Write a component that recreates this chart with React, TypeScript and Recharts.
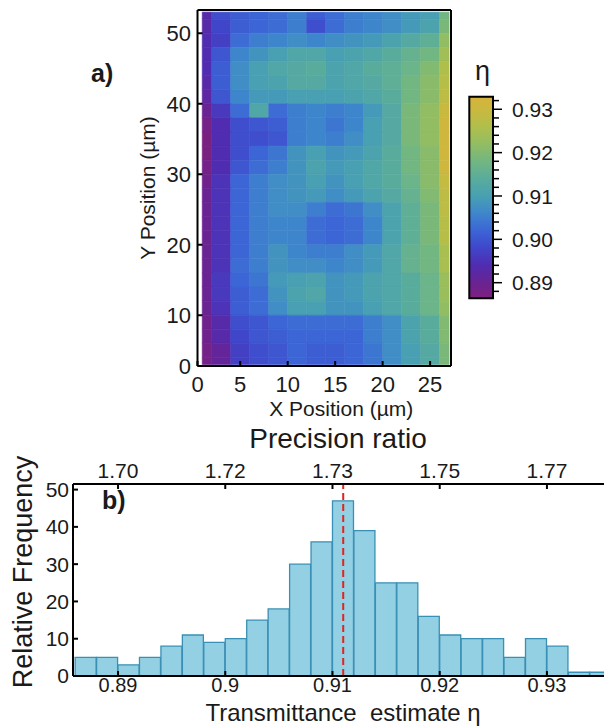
import React from 'react';
import { ComposedChart, XAxis, YAxis, Bar, ReferenceArea, ReferenceLine, Label } from 'recharts';

// ---- a) transmittance map ----
// column edges along x (µm) and row edges along y (µm, top row first)
const xEdges = [1, 2, 4, 6, 8, 10, 12, 14, 16, 18, 20, 22, 24, 26, 27];
const yEdges = [53, 52, 50, 48, 46, 44, 42, 40, 38, 36, 34, 32, 30, 28, 26, 24, 22, 20, 18, 16, 14, 12, 10, 8, 6, 4, 3];

// eta per cell, one row per y band (top -> bottom), one value per x band
const etaGrid = [
  [0.893, 0.899, 0.901, 0.902, 0.903, 0.905, 0.901, 0.903, 0.905, 0.906, 0.907, 0.909, 0.910, 0.918],
  [0.893, 0.898, 0.901, 0.902, 0.903, 0.905, 0.899, 0.903, 0.905, 0.906, 0.907, 0.909, 0.911, 0.919],
  [0.894, 0.897, 0.903, 0.905, 0.906, 0.907, 0.906, 0.907, 0.908, 0.909, 0.911, 0.913, 0.915, 0.922],
  [0.894, 0.900, 0.906, 0.908, 0.910, 0.912, 0.912, 0.910, 0.911, 0.912, 0.914, 0.916, 0.918, 0.924],
  [0.894, 0.901, 0.907, 0.910, 0.912, 0.913, 0.914, 0.911, 0.912, 0.914, 0.915, 0.917, 0.920, 0.926],
  [0.893, 0.901, 0.907, 0.910, 0.911, 0.913, 0.913, 0.911, 0.912, 0.913, 0.915, 0.918, 0.921, 0.927],
  [0.892, 0.900, 0.906, 0.909, 0.909, 0.910, 0.910, 0.910, 0.911, 0.912, 0.914, 0.918, 0.921, 0.928],
  [0.890, 0.896, 0.903, 0.912, 0.903, 0.905, 0.906, 0.905, 0.906, 0.909, 0.913, 0.919, 0.922, 0.930],
  [0.888, 0.894, 0.899, 0.900, 0.901, 0.905, 0.906, 0.904, 0.906, 0.910, 0.913, 0.919, 0.922, 0.931],
  [0.887, 0.894, 0.899, 0.899, 0.900, 0.905, 0.906, 0.905, 0.907, 0.910, 0.913, 0.919, 0.922, 0.931],
  [0.887, 0.894, 0.899, 0.902, 0.904, 0.908, 0.910, 0.908, 0.909, 0.911, 0.914, 0.918, 0.921, 0.931],
  [0.888, 0.894, 0.900, 0.903, 0.905, 0.908, 0.911, 0.909, 0.910, 0.912, 0.914, 0.918, 0.921, 0.931],
  [0.889, 0.895, 0.902, 0.905, 0.907, 0.908, 0.910, 0.908, 0.910, 0.912, 0.914, 0.917, 0.921, 0.929],
  [0.890, 0.895, 0.902, 0.905, 0.907, 0.908, 0.909, 0.907, 0.909, 0.911, 0.913, 0.916, 0.920, 0.928],
  [0.890, 0.895, 0.902, 0.905, 0.907, 0.907, 0.905, 0.903, 0.904, 0.907, 0.911, 0.915, 0.919, 0.928],
  [0.890, 0.895, 0.902, 0.905, 0.906, 0.906, 0.903, 0.902, 0.903, 0.906, 0.911, 0.915, 0.919, 0.927],
  [0.890, 0.895, 0.902, 0.905, 0.906, 0.906, 0.903, 0.902, 0.903, 0.906, 0.911, 0.915, 0.919, 0.927],
  [0.890, 0.895, 0.902, 0.905, 0.908, 0.906, 0.905, 0.905, 0.907, 0.909, 0.912, 0.916, 0.918, 0.925],
  [0.890, 0.895, 0.903, 0.905, 0.908, 0.907, 0.907, 0.906, 0.907, 0.909, 0.912, 0.916, 0.918, 0.925],
  [0.890, 0.896, 0.902, 0.904, 0.909, 0.910, 0.911, 0.908, 0.909, 0.911, 0.912, 0.914, 0.917, 0.923],
  [0.890, 0.896, 0.901, 0.903, 0.908, 0.911, 0.912, 0.908, 0.909, 0.911, 0.912, 0.914, 0.917, 0.923],
  [0.890, 0.895, 0.901, 0.903, 0.907, 0.910, 0.910, 0.908, 0.908, 0.910, 0.912, 0.914, 0.917, 0.922],
  [0.889, 0.893, 0.899, 0.900, 0.902, 0.903, 0.903, 0.903, 0.903, 0.905, 0.907, 0.911, 0.914, 0.920],
  [0.889, 0.893, 0.898, 0.900, 0.901, 0.902, 0.902, 0.902, 0.902, 0.905, 0.907, 0.911, 0.914, 0.920],
  [0.888, 0.891, 0.897, 0.899, 0.900, 0.902, 0.901, 0.901, 0.902, 0.904, 0.907, 0.910, 0.913, 0.919],
  [0.888, 0.891, 0.897, 0.899, 0.900, 0.902, 0.901, 0.901, 0.902, 0.904, 0.907, 0.910, 0.913, 0.919],
];

const mapXTicks = [0.5, 5, 10, 15, 20, 25];
const mapXLabels = ['0', '5', '10', '15', '20', '25'];
const mapYTicks = [2.8, 10, 20, 30, 40, 50];
const mapYLabels = ['0', '10', '20', '30', '40', '50'];

// colour scale (eta -> colour)
const etaStops = [0.8865, 0.89, 0.894, 0.898, 0.902, 0.906, 0.91, 0.914, 0.918, 0.922, 0.926, 0.93, 0.933];
const etaColors = ['#7c217e', '#6a2392', '#502cb0', '#4046ca', '#3c65d6', '#3e86cc', '#48a0b2', '#59ac9c', '#72b682', '#92bd62', '#b0bf4b', '#cab93f', '#d8b33b'];
const barTicks = [0.888, 0.89, 0.892, 0.894, 0.896, 0.898, 0.9, 0.902, 0.904, 0.906, 0.908, 0.91, 0.912, 0.914, 0.916, 0.918, 0.92, 0.922, 0.924, 0.926, 0.928, 0.93, 0.932];

// ---- b) histogram ----
const binCenters = [0.887, 0.889, 0.891, 0.893, 0.895, 0.897, 0.899, 0.901, 0.903, 0.905, 0.907, 0.909, 0.911, 0.913, 0.915, 0.917, 0.919, 0.921, 0.923, 0.925, 0.927, 0.929, 0.931, 0.933, 0.935];
const counts = [5, 5, 3, 5, 8, 11, 9, 10, 15, 18, 30, 36, 47, 39, 25, 25, 16, 11, 10, 10, 5, 10, 8, 1, 1];
const etaTicks = [0.89, 0.9, 0.91, 0.92, 0.93];
const etaLabels = ['0.89', '0.9', '0.91', '0.92', '0.93'];
const precisionLabels = ['1.70', '1.72', '1.73', '1.75', '1.77'];
const freqTicks = [0, 10, 20, 30, 40, 50];
const meanEta = 0.911;

const histData = binCenters.map((eta, i) => ({ eta, count: counts[i] }));

// one entry per map cell (centre + value), so the chart has data to lay out
const mapCells = etaGrid.flatMap((row, r) =>
  row.map((eta, c) => ({
    r,
    c,
    x: (xEdges[c] + xEdges[c + 1]) / 2,
    y: (yEdges[r] + yEdges[r + 1]) / 2,
    eta,
  }))
);

const TXT = '#1a1a1a';
const AX = { stroke: '#000', strokeWidth: 2 };

function hex(c: string) {
  return [1, 3, 5].map((i) => parseInt(c.slice(i, i + 2), 16));
}

function etaColor(v: number) {
  if (v <= etaStops[0]) return etaColors[0];
  for (let i = 1; i < etaStops.length; i++) {
    if (v <= etaStops[i]) {
      const t = (v - etaStops[i - 1]) / (etaStops[i] - etaStops[i - 1]);
      const a = hex(etaColors[i - 1]);
      const b = hex(etaColors[i]);
      const m = a.map((x, k) => Math.round(x + (b[k] - x) * t));
      return `rgb(${m[0]},${m[1]},${m[2]})`;
    }
  }
  return etaColors[etaColors.length - 1];
}

const barMin = 0.8864;
const barMax = 0.9329;
const barData = [
  { x: 0, eta: barMin },
  { x: 1, eta: barMax },
];

const BarTick = (props: any) => {
  const { x, y, payload } = props;
  const v = payload.value as number;
  const major = Math.round(v * 1000) % 10 === 0;
  return (
    <g>
      <line x1={x + 1} x2={x + (major ? 9 : 6)} y1={y} y2={y} stroke="#000" strokeWidth={1.5} />
      {major && (
        <text x={x + 19} y={y} dy="0.36em" fontSize={21} fill={TXT}>
          {v.toFixed(2)}
        </text>
      )}
    </g>
  );
};

export default function App() {
  return (
    <div
      style={{
        position: 'absolute',
        left: 0,
        top: 0,
        width: 604,
        height: 726,
        overflow: 'hidden',
        background: '#fff',
        fontFamily: '"Liberation Sans", Arial, sans-serif',
      }}
    >
      <div style={{ position: 'absolute', left: 0, top: 0 }}>
        <ComposedChart
          width={453}
          height={426}
          data={mapCells}
          margin={{ top: 8, right: 0, bottom: 0, left: 137.5 }}
        >
          <XAxis
            dataKey="x"
            type="number"
            domain={[0.5, 27.2]}
            allowDataOverflow
            ticks={mapXTicks}
            interval={0}
            tickFormatter={(v, i) => mapXLabels[i]}
            height={60}
            tickSize={-5}
            tickMargin={15}
            axisLine={AX}
            tickLine={AX}
            tick={{ fontSize: 22, fill: TXT }}
          >
            <Label value="X Position (µm)" position="center" dx={17} dy={13} fontSize={21} fill={TXT} />
          </XAxis>
          <XAxis
            xAxisId="top"
            orientation="top"
            dataKey="x"
            type="number"
            domain={[0.5, 27.2]}
            allowDataOverflow
            ticks={[5, 10, 15, 20, 25]}
            interval={0}
            height={2}
            tick={false}
            tickSize={-5}
            axisLine={AX}
            tickLine={AX}
          />
          <YAxis
            dataKey="y"
            type="number"
            domain={[2.8, 53.3]}
            allowDataOverflow
            ticks={mapYTicks}
            interval={0}
            tickFormatter={(v, i) => mapYLabels[i]}
            width={60}
            tickSize={-5}
            tickMargin={11.5}
            axisLine={AX}
            tickLine={AX}
            tick={{ fontSize: 22, fill: TXT }}
          >
            <Label value="Y Position (µm)" angle={-90} position="center" dx={-20} fontSize={21} fill={TXT} />
          </YAxis>
          <YAxis
            yAxisId="right"
            orientation="right"
            dataKey="y"
            type="number"
            domain={[2.8, 53.3]}
            allowDataOverflow
            ticks={[10, 20, 30, 40, 50]}
            interval={0}
            width={2}
            tick={false}
            tickSize={-5}
            axisLine={AX}
            tickLine={AX}
          />
          {mapCells.map((cell) => (
            <ReferenceArea
              key={`${cell.r}-${cell.c}`}
              x1={xEdges[cell.c]}
              x2={xEdges[cell.c + 1]}
              y1={yEdges[cell.r + 1]}
              y2={yEdges[cell.r]}
              fill={etaColor(cell.eta)}
              fillOpacity={1}
              stroke={etaColor(cell.eta)}
              strokeWidth={0.6}
              ifOverflow="visible"
            />
          ))}
        </ComposedChart>
      </div>

      <div style={{ position: 'absolute', left: 440, top: 60 }}>
        <ComposedChart
          width={113}
          height={245}
          data={barData}
          margin={{ top: 36.7, right: 0, bottom: 6.7, left: 29.3 }}
        >
          <defs>
            <linearGradient id="etaGrad" x1="0" y1="1" x2="0" y2="0">
              {etaStops.map((s, i) => (
                <stop key={i} offset={(s - barMin) / (barMax - barMin)} stopColor={etaColors[i]} />
              ))}
            </linearGradient>
          </defs>
          <XAxis dataKey="x" type="number" domain={[0, 1]} hide />
          <YAxis
            dataKey="eta"
            orientation="right"
            type="number"
            domain={[barMin, barMax]}
            allowDataOverflow
            ticks={barTicks}
            interval={0}
            width={60}
            axisLine={false}
            tickLine={false}
            tickSize={0}
            tickMargin={0}
            tick={(p: any) => <BarTick {...p} />}
          />
          <ReferenceArea
            x1={0}
            x2={1}
            y1={barMin}
            y2={barMax}
            fill="url(#etaGrad)"
            fillOpacity={1}
            stroke="#000"
            strokeWidth={2}
            ifOverflow="visible"
          />
        </ComposedChart>
      </div>

      <div style={{ position: 'absolute', left: 0, top: 420 }}>
        <ComposedChart
          width={622}
          height={306}
          data={histData}
          margin={{ top: 0, right: 0, bottom: 0, left: 0 }}
          barCategoryGap={0}
          barGap={0}
        >
          <XAxis
            dataKey="eta"
            type="number"
            domain={[0.8858, 0.937]}
            allowDataOverflow
            ticks={etaTicks}
            interval={0}
            tickFormatter={(v, i) => etaLabels[i]}
            height={50}
            tickSize={-5}
            tickMargin={7}
            axisLine={AX}
            tickLine={AX}
            tick={{ fontSize: 20, fill: TXT }}
          >
            <Label value={'Transmittance\u00a0 estimate η'} position="center" dx={-4.5} dy={11} fontSize={24} fill={TXT} />
          </XAxis>
          <XAxis
            xAxisId="top"
            orientation="top"
            dataKey="eta"
            type="number"
            domain={[0.8858, 0.937]}
            allowDataOverflow
            ticks={etaTicks}
            interval={0}
            tickFormatter={(v, i) => precisionLabels[i]}
            height={64}
            tickSize={-5}
            tickMargin={11}
            axisLine={AX}
            tickLine={AX}
            tick={{ fontSize: 21, fill: TXT }}
          >
            <Label value="Precision ratio" position="center" dx={-9.5} dy={-13.5} fontSize={28} fill={TXT} />
          </XAxis>
          <YAxis
            type="number"
            domain={[0, 51.5]}
            allowDataOverflow
            ticks={freqTicks}
            interval={0}
            width={73}
            tickSize={-5}
            tickMargin={9}
            axisLine={AX}
            tickLine={AX}
            tick={{ fontSize: 21, fill: TXT }}
          >
            <Label value="Relative Frequency" angle={-90} position="center" dx={-14.5} dy={-8} fontSize={27} fill={TXT} />
          </YAxis>
          <Bar dataKey="count" fill="#93d0e4" stroke="#3a90b4" strokeWidth={1.3} isAnimationActive={false} />
          <ReferenceLine x={meanEta} stroke="#e3241e" strokeWidth={2} strokeDasharray="7 4" />
        </ComposedChart>
      </div>

      <svg
        width={604}
        height={726}
        style={{ position: 'absolute', left: 0, top: 0, pointerEvents: 'none' }}
      >
        <text x={91} y={82} fontSize={25} fontWeight="bold" fill={TXT}>
          a)
        </text>
        <text x={102} y={509} fontSize={25} fontWeight="bold" fill={TXT}>
          b)
        </text>
        <text x={475} y={80} fontSize={27} fill={TXT}>
          η
        </text>
      </svg>
    </div>
  );
}
